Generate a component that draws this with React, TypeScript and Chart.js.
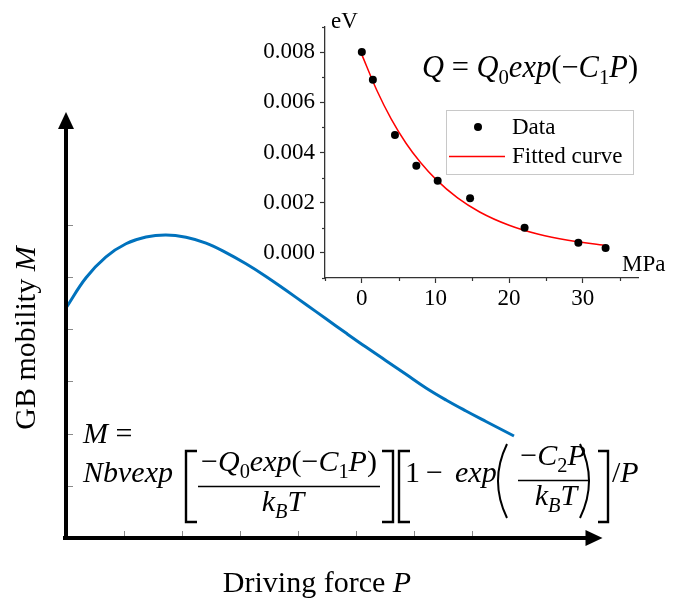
import React, { useEffect, useRef } from 'react';
import { Chart, registerables } from 'chart.js';

Chart.register(...registerables);

const SERIF = '"Liberation Serif", "Times New Roman", serif';

// Main schematic: GB mobility M against driving force P (arbitrary units)
const forceP = [
  0, 0.345, 0.69, 1.034, 1.379, 1.724, 2.069, 2.414, 2.759, 3.103, 3.448, 3.793,
  4.138, 4.483, 4.828, 5.172, 5.517, 5.862, 6.207, 6.552, 6.897, 7.241, 7.724,
];
const mobilityM = [
  4.406, 4.986, 5.386, 5.636, 5.766, 5.806, 5.761, 5.648, 5.467, 5.253, 5.011, 4.745,
  4.473, 4.199, 3.925, 3.657, 3.397, 3.136, 2.874, 2.644, 2.433, 2.232, 1.954,
];
const forceTicks = [1, 2, 3, 4, 5, 6, 7];
const mobilityTicks = [1, 2, 3, 4, 5, 6];

// Inset: activation energy Q (eV) against pressure (MPa)
const pressureMPa = [0, 1.5, 4.5, 7.4, 10.3, 14.7, 22.1, 29.4, 33.1];
const energyEV = [0.008, 0.0069, 0.0047, 0.00347, 0.00287, 0.00218, 0.001, 0.0004, 0.0002];
const fitPressure = [0, 2, 4, 6, 8, 10, 13, 16, 20, 24, 28, 33];
const fitEnergy = [0.0079, 0.0065, 0.00533, 0.00437, 0.00359, 0.00295, 0.00219, 0.00163, 0.0011, 0.00074, 0.0005, 0.0003];
const insetXLabels = [0, 10, 20, 30];
const insetXMinor = [-5, 5, 15, 25, 35];
const insetYLabels = ['0.000', '0.002', '0.004', '0.006', '0.008'];
const insetYMinor = [-0.001, 0.001, 0.003, 0.005, 0.007, 0.009];

type Seg = { t: string; it?: boolean; sub?: boolean };

function segFont(size: number, s: Seg) {
  const sz = s.sub ? size * 0.68 : size;
  return `${s.it ? 'italic ' : ''}${sz}px ${SERIF}`;
}

function richWidth(ctx: CanvasRenderingContext2D, segs: Seg[], size: number) {
  let w = 0;
  for (const s of segs) {
    ctx.font = segFont(size, s);
    w += ctx.measureText(s.t).width;
  }
  return w;
}

function drawRich(
  ctx: CanvasRenderingContext2D,
  segs: Seg[],
  x: number,
  y: number,
  size: number,
  align: 'left' | 'center' = 'left'
) {
  let cx = align === 'center' ? x - richWidth(ctx, segs, size) / 2 : x;
  ctx.textAlign = 'left';
  ctx.textBaseline = 'alphabetic';
  for (const s of segs) {
    ctx.font = segFont(size, s);
    ctx.fillText(s.t, cx, s.sub ? y + size * 0.22 : y);
    cx += ctx.measureText(s.t).width;
  }
}

function strokePath(ctx: CanvasRenderingContext2D, pts: number[][]) {
  ctx.beginPath();
  ctx.moveTo(pts[0][0], pts[0][1]);
  for (let i = 1; i < pts.length; i++) ctx.lineTo(pts[i][0], pts[i][1]);
  ctx.stroke();
}

const mainDecor = {
  id: 'mainDecor',
  afterDatasetsDraw(chart: any) {
    const { ctx, chartArea: a } = chart;
    const xs = chart.scales.x;
    const ys = chart.scales.y;
    const x0 = xs.getPixelForValue(0);
    const y0 = ys.getPixelForValue(0);
    ctx.save();

    // inward tick marks
    ctx.strokeStyle = '#8a8a8a';
    ctx.lineWidth = 1;
    forceTicks.forEach((v) => {
      const px = Math.round(xs.getPixelForValue(v)) + 0.5;
      strokePath(ctx, [[px, y0 - 2], [px, y0 - 7]]);
    });
    mobilityTicks.forEach((v) => {
      const py = Math.round(ys.getPixelForValue(v)) + 0.5;
      strokePath(ctx, [[x0 + 2, py], [x0 + 7, py]]);
    });

    // axes with arrowheads
    ctx.strokeStyle = '#000';
    ctx.fillStyle = '#000';
    ctx.lineWidth = 4;
    strokePath(ctx, [[x0, y0 + 2], [x0, a.top + 14]]);
    strokePath(ctx, [[x0 - 3, y0], [a.right - 14, y0]]);
    ctx.beginPath();
    ctx.moveTo(x0, a.top);
    ctx.lineTo(x0 - 8, a.top + 17);
    ctx.lineTo(x0 + 8, a.top + 17);
    ctx.closePath();
    ctx.fill();
    ctx.beginPath();
    ctx.moveTo(a.right, y0);
    ctx.lineTo(a.right - 17, y0 - 8);
    ctx.lineTo(a.right - 17, y0 + 8);
    ctx.closePath();
    ctx.fill();

    // axis titles
    drawRich(ctx, [{ t: 'Driving force ' }, { t: 'P', it: true }], 317, 592, 30, 'center');
    ctx.save();
    ctx.translate(35, 338);
    ctx.rotate(-Math.PI / 2);
    drawRich(ctx, [{ t: 'GB mobility ' }, { t: 'M', it: true }], 0, 0, 30, 'center');
    ctx.restore();

    // mobility expression
    const fs = 30;
    drawRich(ctx, [{ t: 'M', it: true }, { t: ' =' }], 83, 443, fs);
    drawRich(ctx, [{ t: 'Nbvexp', it: true }], 83, 482, fs);
    drawRich(
      ctx,
      [
        { t: '\u2212' }, { t: 'Q', it: true }, { t: '0', sub: true }, { t: 'exp', it: true },
        { t: '(\u2212' }, { t: 'C', it: true }, { t: '1', sub: true }, { t: 'P', it: true }, { t: ')' },
      ],
      289, 471, fs, 'center'
    );
    drawRich(ctx, [{ t: 'k', it: true }, { t: 'B', it: true, sub: true }, { t: 'T', it: true }], 283, 511, fs, 'center');
    drawRich(ctx, [{ t: '1' }], 405, 482, fs);
    drawRich(ctx, [{ t: '\u2212' }], 426, 482, fs);
    drawRich(ctx, [{ t: 'exp', it: true }], 455, 482, fs);
    drawRich(ctx, [{ t: '\u2212' }, { t: 'C', it: true }, { t: '2', sub: true }, { t: 'P', it: true }], 553, 465, fs, 'center');
    drawRich(ctx, [{ t: 'k', it: true }, { t: 'B', it: true, sub: true }, { t: 'T', it: true }], 556, 505, fs, 'center');
    drawRich(ctx, [{ t: '/' }, { t: 'P', it: true }], 612, 482, fs);

    ctx.lineWidth = 1.6;
    strokePath(ctx, [[198, 486.5], [380, 486.5]]);
    strokePath(ctx, [[518, 480.5], [590, 480.5]]);

    ctx.lineWidth = 2.4;
    strokePath(ctx, [[197, 451], [186, 451], [186, 522], [197, 522]]);
    strokePath(ctx, [[382, 451], [393, 451], [393, 522], [382, 522]]);
    strokePath(ctx, [[410, 451], [399, 451], [399, 522], [410, 522]]);
    strokePath(ctx, [[598, 451], [608, 451], [608, 522], [598, 522]]);
    ctx.lineWidth = 2;
    ctx.beginPath();
    ctx.moveTo(507, 444);
    ctx.quadraticCurveTo(489, 481, 507, 518);
    ctx.stroke();
    ctx.beginPath();
    ctx.moveTo(580, 444);
    ctx.quadraticCurveTo(598, 481, 580, 518);
    ctx.stroke();

    ctx.restore();
  },
};

const insetDecor = {
  id: 'insetDecor',
  afterDraw(chart: any) {
    const { ctx, chartArea: a } = chart;
    const xs = chart.scales.x;
    const ys = chart.scales.y;
    ctx.save();

    // minor ticks
    ctx.strokeStyle = '#333';
    ctx.lineWidth = 1.2;
    insetXMinor.forEach((v) => {
      const px = Math.round(xs.getPixelForValue(v)) + 0.5;
      strokePath(ctx, [[px, a.bottom], [px, a.bottom + 3]]);
    });
    insetYMinor.forEach((v) => {
      const py = Math.round(ys.getPixelForValue(v)) + 0.5;
      strokePath(ctx, [[a.left, py], [a.left - 3, py]]);
    });

    // unit labels
    ctx.fillStyle = '#000';
    drawRich(ctx, [{ t: 'eV' }], a.left + 6, a.top + 1, 23);
    drawRich(ctx, [{ t: 'MPa' }], a.right - 16, a.bottom - 7, 23);

    // fitted expression
    drawRich(
      ctx,
      [
        { t: 'Q', it: true }, { t: ' = ' }, { t: 'Q', it: true }, { t: '0', sub: true },
        { t: 'exp', it: true }, { t: '(\u2212' }, { t: 'C', it: true }, { t: '1', sub: true },
        { t: 'P', it: true }, { t: ')' },
      ],
      422, 77, 30.5
    );

    // legend
    const lx = 446.5, ly = 110.5, lw = 187, lh = 64;
    ctx.strokeStyle = '#c8c8c8';
    ctx.lineWidth = 1;
    ctx.strokeRect(lx, ly, lw, lh);
    const ds = chart.data.datasets;
    ctx.fillStyle = ds[0].backgroundColor;
    ctx.beginPath();
    ctx.arc(478, 127, 4, 0, Math.PI * 2);
    ctx.fill();
    ctx.strokeStyle = ds[1].borderColor;
    ctx.lineWidth = 1.5;
    strokePath(ctx, [[449, 156.5], [505, 156.5]]);
    ctx.fillStyle = '#000';
    ctx.font = `23px ${SERIF}`;
    ctx.textAlign = 'left';
    ctx.textBaseline = 'middle';
    ctx.fillText(ds[0].label, 512, 128);
    ctx.fillText(ds[1].label, 512, 157);

    ctx.restore();
  },
};

export default function App() {
  const mainRef = useRef<HTMLCanvasElement>(null);
  const insetRef = useRef<HTMLCanvasElement>(null);

  useEffect(() => {
    const main = new Chart(mainRef.current as HTMLCanvasElement, {
      type: 'line',
      data: {
        datasets: [
          {
            label: 'M',
            data: forceP.map((x, i) => ({ x, y: mobilityM[i] })),
            borderColor: '#0072BD',
            borderWidth: 3,
            pointRadius: 0,
            tension: 0.4,
            clip: false as any,
          },
        ],
      },
      options: {
        responsive: false,
        animation: false,
        layout: { padding: { left: 66, right: 82.5, top: 112, bottom: 68 } },
        scales: {
          x: { type: 'linear', display: false, min: 0, max: 9.25 },
          y: { type: 'linear', display: false, min: 0, max: 8.16 },
        },
        plugins: { legend: { display: false }, tooltip: { enabled: false } },
      },
      plugins: [mainDecor],
    });

    const tickFont = { family: SERIF, size: 23 };
    const inset = new Chart(insetRef.current as HTMLCanvasElement, {
      type: 'scatter',
      data: {
        datasets: [
          {
            label: 'Data',
            data: pressureMPa.map((x, i) => ({ x, y: energyEV[i] })),
            backgroundColor: '#000',
            borderWidth: 0,
            pointRadius: 4,
            showLine: false,
            order: 0,
          },
          {
            label: 'Fitted curve',
            data: fitPressure.map((x, i) => ({ x, y: fitEnergy[i] })),
            borderColor: '#ff0000',
            backgroundColor: '#ff0000',
            borderWidth: 1.5,
            pointRadius: 0,
            showLine: true,
            cubicInterpolationMode: 'monotone',
            order: 1,
          },
        ],
      },
      options: {
        responsive: false,
        animation: false,
        layout: { padding: { left: 0, right: 47, top: 27, bottom: 0 } },
        scales: {
          x: {
            type: 'linear',
            min: -5,
            max: 37.5,
            afterFit: (s: any) => {
              s.height = 328;
            },
            ticks: {
              stepSize: 5,
              autoSkip: false,
              maxRotation: 0,
              color: '#000',
              padding: 2,
              font: tickFont,
              callback: (v: any) => (insetXLabels.includes(Number(v)) ? String(v) : ''),
            },
            grid: {
              drawOnChartArea: false,
              drawTicks: true,
              tickLength: 5,
              tickWidth: 1.2,
              tickColor: (c: any) =>
                c.tick && insetXLabels.includes(c.tick.value) ? '#333' : 'rgba(0,0,0,0)',
            },
            border: { color: '#333', width: 1.3 },
          },
          y: {
            type: 'linear',
            min: -0.001,
            max: 0.009,
            afterFit: (s: any) => {
              s.width = 325;
            },
            ticks: {
              stepSize: 0.001,
              autoSkip: false,
              color: '#000',
              padding: 5,
              font: tickFont,
              callback: (v: any) => {
                const k = Math.round(Number(v) * 1000);
                return k >= 0 && k % 2 === 0 ? insetYLabels[k / 2] ?? '' : '';
              },
            },
            grid: {
              drawOnChartArea: false,
              drawTicks: true,
              tickLength: 5,
              tickWidth: 1.2,
              tickColor: (c: any) => {
                if (!c.tick) return 'rgba(0,0,0,0)';
                const k = Math.round(c.tick.value * 1000);
                return k >= 0 && k % 2 === 0 && k <= 8 ? '#333' : 'rgba(0,0,0,0)';
              },
            },
            border: { color: '#333', width: 1.3 },
          },
        },
        plugins: { legend: { display: false }, tooltip: { enabled: false } },
      },
      plugins: [insetDecor],
    });

    return () => {
      main.destroy();
      inset.destroy();
    };
  }, []);

  return (
    <div style={{ position: 'fixed', left: 0, top: 0, width: 685, height: 606, background: '#fff' }}>
      <canvas ref={mainRef} width={685} height={606} style={{ position: 'absolute', left: 0, top: 0 }} />
      <canvas ref={insetRef} width={685} height={606} style={{ position: 'absolute', left: 0, top: 0 }} />
    </div>
  );
}
